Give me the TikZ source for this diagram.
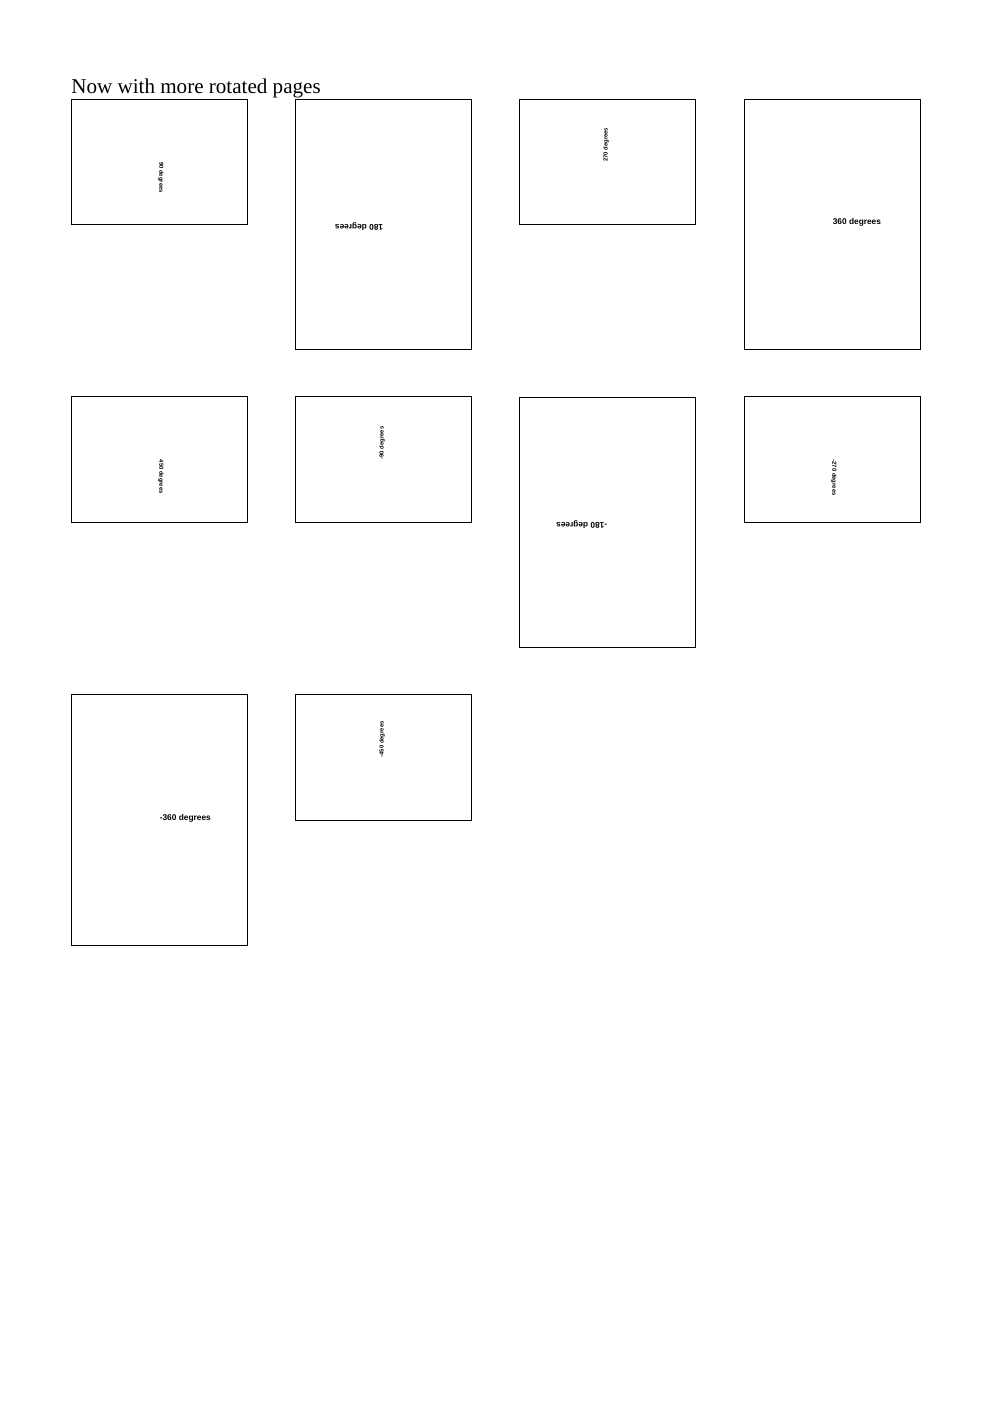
\documentclass[tikz,border=0pt]{standalone}
\usepackage{fontspec}
\setmainfont{Liberation Serif}
\newfontfamily\lblfont{Liberation Sans}
\begin{document}
\begin{tikzpicture}[x=0.6001pt,y=-0.6001pt,
  pbox/.style={draw, line width=0.6pt, inner sep=0pt, minimum width=106.2pt},
  portrait/.style={pbox, minimum height=150.6pt},
  landscape/.style={pbox, minimum height=75.6pt},
  lbl/.style={inner sep=0pt, anchor=west, font=\lblfont\bfseries\fontsize{5}{6}\selectfont}]
\useasboundingbox (0,0) rectangle (992,1403);
\node[anchor=base west, inner sep=0pt, font=\fontsize{12.65}{14}\selectfont] (title) at (71,94) {Now with more rotated pages};
% row 1
\node[landscape] (b1) at (159.5,162) {};
\node[portrait]  (b2) at (383.5,224.5) {};
\node[landscape] (b3) at (607.5,162) {};
\node[portrait]  (b4) at (832.5,224.5) {};
% row 2
\node[landscape] (b5) at (159.5,459.5) {};
\node[landscape] (b6) at (383.5,459.5) {};
\node[portrait]  (b7) at (607.5,522.5) {};
\node[landscape] (b8) at (832.5,459.5) {};
% row 3
\node[portrait]  (b9) at (159.5,820) {};
\node[landscape] (b10) at (383.5,757.5) {};
% labels
\begin{scope}[shift={(b1.center)}, rotate=-90, scale=0.705, transform shape]
  \node[lbl] (l1) at (0,-2) {90 degrees};
\end{scope}
\begin{scope}[shift={(b2.center)}, rotate=180, transform shape]
  \node[lbl] (l2) at (0,-2) {180 degrees};
\end{scope}
\begin{scope}[shift={(b3.center)}, rotate=90, scale=0.705, transform shape]
  \node[lbl] (l3) at (0,-2) {270 degrees};
\end{scope}
\begin{scope}[shift={(b4.center)}]
  \node[lbl] (l4) at (0,-2) {360 degrees};
\end{scope}
\begin{scope}[shift={(b5.center)}, rotate=-90, scale=0.705, transform shape]
  \node[lbl] (l5) at (0,-2) {450 degrees};
\end{scope}
\begin{scope}[shift={(b6.center)}, rotate=90, scale=0.705, transform shape]
  \node[lbl] (l6) at (0,-2) {-90 degrees};
\end{scope}
\begin{scope}[shift={(b7.center)}, rotate=180, transform shape]
  \node[lbl] (l7) at (0,-2) {-180 degrees};
\end{scope}
\begin{scope}[shift={(b8.center)}, rotate=-90, scale=0.705, transform shape]
  \node[lbl] (l8) at (0,-2) {-270 degrees};
\end{scope}
\begin{scope}[shift={(b9.center)}]
  \node[lbl] (l9) at (0,-2) {-360 degrees};
\end{scope}
\begin{scope}[shift={(b10.center)}, rotate=90, scale=0.705, transform shape]
  \node[lbl] (l10) at (0,-2) {-450 degrees};
\end{scope}
\end{tikzpicture}
\end{document}
